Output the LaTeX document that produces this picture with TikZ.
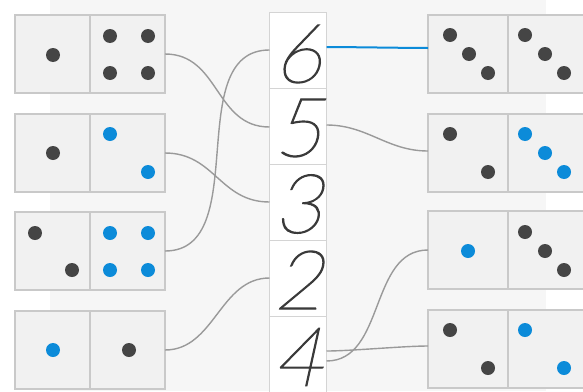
\documentclass[tikz,border=0pt]{standalone}
\usepackage{fontspec}
\newfontfamily\digitfont[FakeSlant=0.22,FakeBold=1.6]{Lato Thin}
\definecolor{bg}{HTML}{F6F6F6}
\definecolor{dfill}{HTML}{F1F1F1}
\definecolor{dedge}{HTML}{C9C9C9}
\definecolor{pipdark}{HTML}{454545}
\definecolor{pipblue}{HTML}{0C8BD9}
\definecolor{wire}{HTML}{9A9A9A}
\definecolor{numcol}{HTML}{3A3A3A}
\tikzset{
  x=1pt, y=-1pt,
  half/.style={draw=dedge, line width=1.6pt, fill=dfill, minimum width=75pt, minimum height=78pt, inner sep=0pt, outer sep=0pt},
  rhalf/.style={half, minimum width=80pt},
  cell/.style={draw=dedge!80, line width=1pt, fill=white, minimum width=57pt, minimum height=76pt, inner sep=0pt, outer sep=0pt},
  digit/.style={text=numcol, inner sep=0pt, font=\digitfont\fontsize{82}{82}\selectfont},
  dpip/.style={fill=pipdark, draw=none},
  bpip/.style={fill=pipblue, draw=none},
  wireline/.style={draw=wire, line width=1.4pt},
  blueline/.style={draw=pipblue, line width=2pt},
}
\begin{document}
\begin{tikzpicture}
\useasboundingbox (0,0) rectangle (583,391);
\fill[bg] (0,0) rectangle (583,391);
\fill[white] (0,0) rectangle (50,391);
\fill[white] (546,0) rectangle (583,391);

% left dominoes
\foreach \i/\y in {1/54,2/153,3/251,4/350}{
  \node[half, anchor=east] (L\i a) at (90,\y) {};
  \node[half, anchor=west] (L\i b) at (90,\y) {};
}
% right dominoes
\foreach \i/\y in {1/54,2/153,3/250,4/349}{
  \node[rhalf, anchor=east] (R\i a) at (508,\y) {};
  \node[rhalf, anchor=west] (R\i b) at (508,\y) {};
}
% pips left
\def\pr{7}
\fill[dpip] (53,55) circle (\pr);
\foreach \p in {(110,36),(148,36),(110,73),(148,73)} \fill[dpip] \p circle (\pr);
\fill[dpip] (53,153) circle (\pr);
\fill[bpip] (110,134) circle (\pr);
\fill[bpip] (148,172) circle (\pr);
\fill[dpip] (35,233) circle (\pr);
\fill[dpip] (72,270) circle (\pr);
\foreach \p in {(110,233),(148,233),(110,270),(148,270)} \fill[bpip] \p circle (\pr);
\fill[bpip] (53,350) circle (\pr);
\fill[dpip] (129,350) circle (\pr);
% pips right
\foreach \p in {(450,35),(469,54),(488,73),(525,35),(545,54),(564,73)} \fill[dpip] \p circle (\pr);
\foreach \p in {(450,134),(488,172)} \fill[dpip] \p circle (\pr);
\foreach \p in {(525,134),(545,153),(564,172)} \fill[bpip] \p circle (\pr);
\fill[bpip] (468,251) circle (\pr);
\foreach \p in {(525,232),(545,251),(564,270)} \fill[dpip] \p circle (\pr);
\foreach \p in {(450,330),(488,368)} \fill[dpip] \p circle (\pr);
\foreach \p in {(525,330),(564,368)} \fill[bpip] \p circle (\pr);

% number column
\node[cell] (n6) at (298,50) {};
\node[cell] (n5) at (298,126) {};
\node[cell] (n3) at (298,202) {};
\node[cell] (n2) at (298,278) {};
\node[cell] (n4) at (298,354) {};
\node[digit] (d6) at ([yshift=-4pt]n6.center) {6};
\node[digit] (d5) at ([yshift=-2pt]n5.center) {5};
\node[digit] (d3) at ([yshift=-2pt]n3.center) {3};
\node[digit] (d2) at ([yshift=-2pt]n2.center) {2};
\node[digit] (d4) at ([yshift=-3pt]n4.center) {4};

% connectors left
\draw[wireline] (L1b.east) to[out=0,in=180,looseness=1.1] ([yshift=-1pt]n5.west);
\draw[wireline] (L2b.east) to[out=0,in=180,looseness=1.1] (n3.west);
\draw[wireline] (L3b.east) to[out=0,in=180,looseness=1.0] (n6.west);
\draw[wireline] (L4b.east) to[out=0,in=180,looseness=1.0] (n2.west);
% connectors right
\draw[blueline] ([yshift=3pt]n6.east) to[out=0,in=180,looseness=0.5] ([yshift=6pt]R1a.west);
\draw[wireline] ([yshift=1pt]n5.east) to[out=0,in=180,looseness=1.0] ([yshift=2pt]R2a.west);
\draw[wireline] ([yshift=-7pt]n4.east) to[out=0,in=180,looseness=1.0] (R3a.west);
\draw[wireline] ([yshift=3pt]n4.east) to[out=0,in=180,looseness=0.6] ([yshift=3pt]R4a.west);
\end{tikzpicture}
\end{document}
